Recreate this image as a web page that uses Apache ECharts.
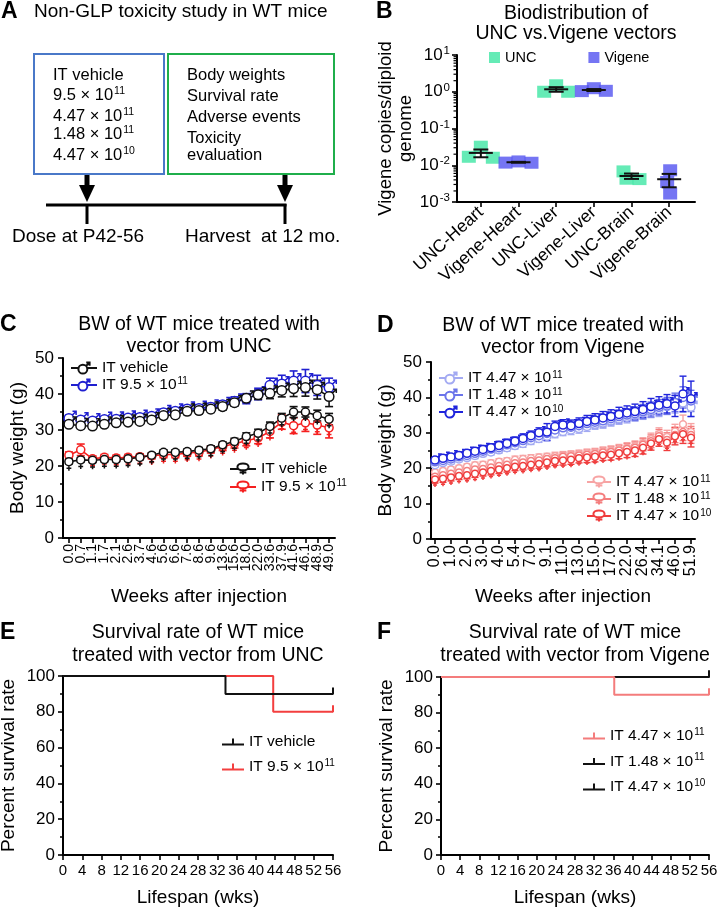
<!DOCTYPE html>
<html><head><meta charset="utf-8">
<script src="https://cdn.jsdelivr.net/npm/echarts/dist/echarts.min.js"></script>
<style>html,body{margin:0;padding:0;background:#fff;}#main{width:717px;height:909px;}</style>
</head><body><div id="main"></div>
<script>
const FONT = "'Liberation Sans', Arial, Helvetica, sans-serif";

// ---------------- Panel B: biodistribution ----------------
const bioCategories = ['UNC-Heart','Vigene-Heart','UNC-Liver','Vigene-Liver','UNC-Brain','Vigene-Brain'];
const bioUNCHeart = [0.032, 0.017, 0.016];
const bioVigeneHeart = [0.0118, 0.0127, 0.0117];
const bioUNCLiver = [1.5, 1.0, 1.0];
const bioVigeneLiver = [1.25, 1.04, 1.06];
const bioUNCBrain = [0.0068, 0.0043, 0.0042];
const bioVigeneBrain = [0.0073, 0.0035, 0.0017];
const bioMinorTicks = [0.002,0.003,0.004,0.005,0.006,0.007,0.008,0.009,
  0.02,0.03,0.04,0.05,0.06,0.07,0.08,0.09,0.2,0.3,0.4,0.5,0.6,0.7,0.8,0.9,2,3,4,5,6,7,8,9];

// ---------------- Panel C: body weight, UNC vector ----------------
const cWeeks = ['0.0','0.7','1.1','1.7','2.1','2.6','3.7','4.6','5.6','6.6','7.6','8.6','9.6','13.6','15.6','18.0','22.0','33.6','37.9','41.6','46.1','48.9','49.0'];
const cMaleVehicle = [31.6,31.2,31.1,31.6,32.0,32.2,32.4,32.8,34.0,34.2,35.2,35.4,35.8,36.5,37.6,38.8,39.8,40.2,41.0,41.5,41.8,41.2,39.3];
const cMaleVehicleSem = [0.7,0.8,0.7,0.7,0.7,0.7,0.7,0.8,0.8,0.8,0.9,0.9,0.9,1.0,1.0,1.1,1.3,1.5,1.8,2.2,2.4,2.6,2.8];
const cMaleUNC = [33.2,32.8,32.5,32.9,33.0,33.3,33.5,33.8,34.8,35.2,35.8,36.0,36.3,37.0,38.0,38.7,40.0,42.4,42.8,43.6,43.6,42.4,41.8];
const cMaleUNCSem = [0.9,0.8,0.8,0.8,0.8,0.9,0.9,0.9,1.0,1.0,1.0,1.0,1.1,1.1,1.2,1.4,1.6,2.0,2.4,2.8,3.2,2.8,2.6];
const cFemaleVehicle = [21.2,21.7,21.6,21.8,21.8,22.0,22.4,23.0,23.8,23.8,24.0,24.4,24.8,25.9,26.8,28.2,29.1,31.0,33.3,35.0,35.0,34.0,33.0];
const cFemaleVehicleSem = [0.6,0.6,0.6,0.6,0.6,0.6,0.6,0.6,0.7,0.7,0.7,0.7,0.8,0.8,0.9,1.0,1.1,1.2,1.3,1.5,1.4,1.5,1.6];
const cFemaleUNC = [23.0,24.5,22.0,22.4,22.2,22.4,22.6,22.8,23.2,23.2,23.6,23.8,24.6,25.4,26.2,27.0,27.8,29.6,32.2,31.2,32.0,31.4,30.6];
const cFemaleUNCSem = [0.9,1.6,0.8,0.8,0.8,0.8,0.8,0.8,0.9,0.9,0.9,1.0,1.0,1.1,1.2,1.4,1.6,1.8,2.0,2.2,2.4,2.6,2.8];

// ---------------- Panel D: body weight, Vigene vector ----------------
const dWeeks = ['0.0','0.5','1.0','1.5','2.0','2.5','3.0','3.5','4.0','4.6','5.4','6.1','7.0','8.0','9.1','10.0','11.0','12.0','13.0','14.0','15.0','16.0','17.0','19.0','22.0','24.1','26.4','30.0','34.1','40.0','46.0','48.9','51.9'];
const dMaleHigh = [21.0,21.6,22.0,22.6,23.0,23.6,24.2,24.6,25.2,25.8,26.4,27.0,27.8,28.4,29.0,29.8,30.4,30.8,31.2,31.8,32.4,32.8,33.4,34.0,34.4,35.0,35.6,36.2,36.6,37.4,38.0,38.4,37.2];
const dMaleHighSem = [0.7,0.7,0.8,0.8,0.8,0.9,0.9,0.9,1.0,1.0,1.0,1.1,1.1,1.1,1.2,1.2,1.2,1.3,1.3,1.4,1.4,1.5,1.5,1.6,1.6,1.7,1.8,1.9,2.0,2.2,2.4,2.6,2.6];
const dMaleMid = [21.8,22.2,22.6,23.2,23.6,24.2,24.8,25.4,25.8,26.6,27.2,27.8,28.6,29.2,29.8,30.8,31.4,31.6,32.0,32.6,33.0,33.4,34.0,34.6,35.0,35.4,36.0,36.6,37.2,37.6,38.6,40.0,39.0];
const dMaleMidSem = [0.8,0.8,0.9,0.9,0.9,1.0,1.0,1.0,1.1,1.1,1.1,1.2,1.2,1.3,1.3,1.4,1.4,1.5,1.5,1.6,1.6,1.7,1.7,1.8,1.8,1.9,2.0,2.1,2.2,2.4,2.6,3.0,3.0];
const dMaleLow = [22.3,22.8,23.2,23.6,24.2,24.8,25.3,25.8,26.4,27.0,27.6,28.4,29.2,30.0,30.2,31.8,32.2,32.0,32.6,33.2,33.6,34.2,34.6,35.2,35.6,36.0,36.6,37.4,37.8,38.2,37.6,41.0,39.6];
const dMaleLowSem = [0.8,0.9,0.9,1.0,1.0,1.0,1.1,1.1,1.2,1.2,1.2,1.3,1.3,1.4,2.4,1.5,1.5,1.6,1.6,1.7,1.8,1.8,1.9,2.0,2.0,2.1,2.2,2.3,2.4,2.6,3.0,5.0,5.0];
const dFemaleHigh = [18.8,19.2,19.6,20.0,20.4,20.8,21.0,21.4,21.8,22.0,22.4,22.6,22.8,23.0,23.2,23.4,23.6,23.8,24.0,24.2,24.4,24.8,25.0,25.4,25.8,26.2,27.0,28.2,29.6,28.8,30.4,32.4,30.2];
const dFemaleHighSem = [0.8,0.8,0.8,0.8,0.8,0.9,0.9,0.9,0.9,0.9,1.0,1.0,1.0,1.0,1.0,1.1,1.1,1.1,1.1,1.2,1.2,1.2,1.3,1.3,1.4,1.5,1.6,1.7,1.8,1.9,2.0,2.6,2.4];
const dFemaleMid = [17.6,18.0,18.4,18.8,19.2,19.6,19.8,20.2,20.6,21.0,21.4,21.6,22.0,22.2,22.6,22.8,23.2,23.4,23.6,23.8,24.0,24.4,24.6,25.0,25.4,25.8,26.6,27.6,29.0,28.0,29.4,30.2,29.4];
const dFemaleMidSem = [0.9,0.9,0.9,0.9,0.9,0.9,1.0,1.0,1.0,1.0,1.0,1.1,1.1,1.1,1.1,1.2,1.2,1.2,1.2,1.3,1.3,1.3,1.4,1.4,1.5,1.6,1.7,1.8,1.9,2.0,2.2,2.4,2.4];
const dFemaleLow = [16.8,17.0,17.4,17.8,18.0,18.4,18.8,19.2,19.6,20.0,20.4,20.6,21.0,21.2,21.6,22.0,22.2,22.4,22.8,23.0,23.2,23.6,23.8,24.2,24.6,25.0,25.8,27.0,28.2,27.2,29.0,29.6,28.6];
const dFemaleLowSem = [1.0,1.0,1.0,1.0,1.0,1.0,1.0,1.1,1.1,1.1,1.1,1.1,1.2,1.2,1.2,1.2,1.3,1.3,1.3,1.4,1.4,1.4,1.5,1.5,1.6,1.7,1.8,1.9,2.0,2.2,2.4,2.6,2.6];

// ---------------- Panels E/F: survival ----------------
const eVehicleWeeks = [0, 33.7, 56];
const eVehicleSurvival = [100, 90, 90];
const eHighWeeks = [0, 43.6, 56];
const eHighSurvival = [100, 80, 80];
const fHighWeeks = [0, 36.2, 56];
const fHighSurvival = [100, 90, 90];
const fMidWeeks = [0, 56];
const fMidSurvival = [100, 100];
const fLowWeeks = [0, 56];
const fLowSurvival = [100, 100];

// ---------------- styles ----------------
const bioJitterPx = [[0,-12,12],[-13,0,13],[0,-12,12],[0,-12,12],[-8,-5,8],[1,-2,1]];
const MALE = 'path://M10.5,10A4.5,4.5,0,1,1,1.5,10A4.5,4.5,0,1,1,10.5,10Z M9.2,6.8L12.6,3.4 M9.4,3.2L12.8,3.2L12.8,6.6';
const FEMALE = 'path://M9.5,5A4.5,4.5,0,1,1,0.5,5A4.5,4.5,0,1,1,9.5,5Z M5,9.5L5,15 M2.3,12.4L7.7,12.4';
const KM_ICON = 'path://M0,7H22V9H0Z M10,2H12V7H10Z';

function supRich(fs, lh, sfs) {
  return { n: { fontSize: fs, lineHeight: lh, fontFamily: FONT, color: '#000' },
           s: { fontSize: sfs, fontFamily: FONT, color: '#000', verticalAlign: 'top', padding: [1, 0, 0, 1] } };
}
const LABELS = {
  cMaleVeh: '{n|IT vehicle}', cMaleUNC: '{n|IT 9.5 × 10}{s|11}',
  cFemVeh: '{n|IT vehicle}', cFemUNC: '{n|IT 9.5 × 10}{s|11}',
  dMaleHigh: '{n|IT 4.47 × 10}{s|11}', dMaleMid: '{n|IT 1.48 × 10}{s|11}', dMaleLow: '{n|IT 4.47 × 10}{s|10}',
  dFemHigh: '{n|IT 4.47 × 10}{s|11}', dFemMid: '{n|IT 1.48 × 10}{s|11}', dFemLow: '{n|IT 4.47 × 10}{s|10}',
  eVeh: '{n|IT vehicle}', eHigh: '{n|IT 9.5 × 10}{s|11}',
  fHigh: '{n|IT 4.47 × 10}{s|11}', fMid: '{n|IT 1.48 × 10}{s|11}', fLow: '{n|IT 4.47 × 10}{s|10}',
  UNC: '{n|UNC}', Vigene: '{n|Vigene}'
};

const AX = { color: '#000', width: 2 };
function baseAxis(o) {
  return Object.assign({
    axisLine: { show: true, onZero: false, lineStyle: AX },
    axisTick: { show: true, length: 5, lineStyle: { color: '#000', width: 1.6 } },
    splitLine: { show: false },
    axisLabel: { color: '#000', fontFamily: FONT, fontSize: 16 },
    nameTextStyle: { color: '#000', fontFamily: FONT, fontSize: 19 }
  }, o);
}

function errRender(color, capW, lw) {
  return function (params, api) {
    const x = api.value(0);
    const lo = api.coord([x, api.value(1)]);
    const hi = api.coord([x, api.value(2)]);
    const st = { stroke: color, lineWidth: lw, fill: null };
    return { type: 'group', children: [
      { type: 'line', shape: { x1: lo[0], y1: lo[1], x2: hi[0], y2: hi[1] }, style: st },
      { type: 'line', shape: { x1: lo[0] - capW / 2, y1: lo[1], x2: lo[0] + capW / 2, y2: lo[1] }, style: st },
      { type: 'line', shape: { x1: hi[0] - capW / 2, y1: hi[1], x2: hi[0] + capW / 2, y2: hi[1] }, style: st }
    ] };
  };
}

function bwSeries(key, axisIdx, mean, sem, color, symbol, symSize, symOffset, lw, capW) {
  return [
    { type: 'custom', name: key + '_err', xAxisIndex: axisIdx, yAxisIndex: axisIdx,
      renderItem: errRender(color, capW, lw), encode: { x: 0, y: [1, 2] }, z: 2,
      data: mean.map((m, i) => [i, m - sem[i], m + sem[i]]) },
    { type: 'line', name: key, xAxisIndex: axisIdx, yAxisIndex: axisIdx, data: mean,
      symbol: symbol, symbolSize: symSize, symbolKeepAspect: true, symbolOffset: symOffset,
      showAllSymbol: true, z: 3,
      lineStyle: { color: color, width: lw },
      itemStyle: { color: '#fff', borderColor: color, borderWidth: 1.5 } }
  ];
}

function kmSeries(key, axisIdx, weeks, surv, color) {
  const data = weeks.map((t, i) => i === weeks.length - 1
    ? { value: [t, surv[i]], symbol: 'rect', symbolSize: [2, 7], symbolOffset: [0, -3] }
    : { value: [t, surv[i]] });
  return { type: 'line', name: key, xAxisIndex: axisIdx, yAxisIndex: axisIdx, step: 'end', data: data,
    symbol: 'none', showAllSymbol: true,
    lineStyle: { color: color, width: 2 }, itemStyle: { color: color } };
}

// bio helpers
const bioGroups = [bioUNCHeart, bioVigeneHeart, bioUNCLiver, bioVigeneLiver, bioUNCBrain, bioVigeneBrain];
function bioPoints(indices) {
  const out = [];
  indices.forEach(ci => bioGroups[ci].forEach((v, k) => out.push({ value: [ci, v], symbolOffset: [bioJitterPx[ci][k], 0] })));
  return out;
}
const bioStats = bioGroups.map((g, i) => {
  const m = g.reduce((a, b) => a + b, 0) / g.length;
  const sd = Math.sqrt(g.reduce((a, b) => a + (b - m) * (b - m), 0) / (g.length - 1));
  const se = sd / Math.sqrt(g.length);
  return [i, m, m - se, m + se];
});

function legend(keys, left, top, iw, lh, gap, fs, extra) {
  return Object.assign({
    data: keys, left: left, top: top, orient: 'vertical', itemWidth: iw, itemHeight: 14, itemGap: gap,
    selectedMode: false, padding: 0,
    formatter: n => LABELS[n],
    textStyle: { rich: supRich(fs, lh, 10) }
  }, extra || {});
}

function txt(text, x, y, size, align, extra) {
  return { type: 'text', silent: true, style: Object.assign({
    text: text, x: x, y: y, fill: '#000', font: size + 'px ' + FONT,
    align: align || 'left', textAlign: align || 'left', verticalAlign: 'middle', textVerticalAlign: 'middle'
  }, extra || {}) };
}
function richTxt(text, x, y, fs) {
  return { type: 'text', silent: true, style: {
    text: text, x: x, y: y, align: 'left', textAlign: 'left', verticalAlign: 'middle', textVerticalAlign: 'middle',
    rich: supRich(fs, 20, 10.5)
  } };
}
function seg(x1, y1, x2, y2, w) {
  return { type: 'line', silent: true, shape: { x1, y1, x2, y2 }, style: { stroke: '#000', lineWidth: w } };
}
function arrow(cx) {
  return [
    { type: 'rect', silent: true, shape: { x: cx - 2.5, y: 175, width: 5, height: 12 }, style: { fill: '#000' } },
    { type: 'polygon', silent: true, shape: { points: [[cx - 8, 185], [cx + 8, 185], [cx, 202]] }, style: { fill: '#000' } }
  ];
}

const graphics = [
  // panel letters
  txt('A', 1, 12, 21, 'left', { font: 'bold 23px ' + FONT }),
  txt('B', 376, 12, 21, 'left', { font: 'bold 23px ' + FONT }),
  txt('C', 0, 325, 21, 'left', { font: 'bold 23px ' + FONT }),
  txt('D', 377, 326, 21, 'left', { font: 'bold 23px ' + FONT }),
  txt('E', 0, 633, 21, 'left', { font: 'bold 23px ' + FONT }),
  txt('F', 377, 633, 21, 'left', { font: 'bold 23px ' + FONT }),
  // panel A
  txt('Non-GLP toxicity study in WT mice', 34, 12, 19),
  { type: 'rect', silent: true, shape: { x: 34, y: 54, width: 130, height: 120 }, style: { fill: 'none', stroke: '#4a78c8', lineWidth: 2 } },
  { type: 'rect', silent: true, shape: { x: 168, y: 54, width: 166, height: 120 }, style: { fill: 'none', stroke: '#1fae4b', lineWidth: 2 } },
  txt('IT vehicle', 53, 75, 16.5),
  richTxt('{n|9.5 × 10}{s|11}', 53, 95, 16.5),
  richTxt('{n|4.47 × 10}{s|11}', 53, 116, 16.5),
  richTxt('{n|1.48 × 10}{s|11}', 53, 134, 16.5),
  richTxt('{n|4.47 × 10}{s|10}', 53, 155, 16.5),
  txt('Body weights', 187, 75, 16.5),
  txt('Survival rate', 187, 96, 16.5),
  txt('Adverse events', 187, 117, 16.5),
  txt('Toxicity', 187, 138, 16.5),
  txt('evaluation', 187, 155, 16.5),
  ...arrow(87), ...arrow(285),
  seg(46, 205, 286.5, 205, 3),
  seg(87, 204, 87, 224, 3),
  seg(285, 204, 285, 224, 3),
  txt('Dose at P42-56', 12, 237, 19),
  txt('Harvest  at 12 mo.', 185, 237, 19),
  // panel titles
  txt('Biodistribution of', 576, 14, 19.5, 'center'),
  txt('UNC vs.Vigene vectors', 576, 34, 19.5, 'center'),
  txt('BW of WT mice treated with', 199, 325, 19.5, 'center'),
  txt('vector from UNC', 199, 347, 19.5, 'center'),
  txt('BW of WT mice treated with', 563, 326, 19.5, 'center'),
  txt('vector from Vigene', 563, 348, 19.5, 'center'),
  txt('Survival rate of WT mice', 198, 633, 19.5, 'center'),
  txt('treated with vector from UNC', 198, 656, 19.5, 'center'),
  txt('Survival rate of WT mice', 575, 633, 19.5, 'center'),
  txt('treated with vector from Vigene', 575, 656, 19.5, 'center')
];

const option = {
  animation: false,
  backgroundColor: '#fff',
  textStyle: { fontFamily: FONT },
  grid: [
    { left: 457, top: 55, width: 238, height: 147, outerBoundsMode: 'none', containLabel: false },
    { left: 462, top: 55, width: 226, height: 147, outerBoundsMode: 'none', containLabel: false },
    { left: 63, top: 358, width: 272, height: 180, outerBoundsMode: 'none', containLabel: false },
    { left: 431, top: 362, width: 264, height: 177, outerBoundsMode: 'none', containLabel: false },
    { left: 63, top: 676, width: 270, height: 179, outerBoundsMode: 'none', containLabel: false },
    { left: 441, top: 677, width: 268, height: 178, outerBoundsMode: 'none', containLabel: false }
  ],
  xAxis: [
    baseAxis({ gridIndex: 0, type: 'category', data: bioCategories, axisTick: { show: false }, axisLabel: { show: false } }),
    baseAxis({ gridIndex: 1, type: 'category', data: bioCategories, axisLine: { show: false },
      axisTick: { show: true, alignWithLabel: true, length: 5, lineStyle: { color: '#000', width: 1.6 } },
      axisLabel: { color: '#000', fontFamily: FONT, fontSize: 17.5, rotate: 42, interval: 0, margin: 8 } }),
    baseAxis({ gridIndex: 2, type: 'category', data: cWeeks, boundaryGap: true,
      axisTick: { show: true, alignWithLabel: true, interval: 0, length: 5, lineStyle: { color: '#000', width: 1.6 } },
      axisLabel: { color: '#000', fontFamily: FONT, fontSize: 14, rotate: 90, interval: 0, margin: 6 },
      name: 'Weeks after injection', nameLocation: 'middle', nameGap: 49 }),
    baseAxis({ gridIndex: 3, type: 'category', data: dWeeks, boundaryGap: true,
      axisTick: { show: true, alignWithLabel: true, interval: 1, length: 5, lineStyle: { color: '#000', width: 1.6 } },
      axisLabel: { color: '#000', fontFamily: FONT, fontSize: 16, rotate: 90, interval: 1, margin: 6 },
      name: 'Weeks after injection', nameLocation: 'middle', nameGap: 48 }),
    baseAxis({ gridIndex: 4, type: 'value', min: 0, max: 56, interval: 4,
      axisLabel: { color: '#000', fontFamily: FONT, fontSize: 15, margin: 8 },
      name: 'Lifespan (wks)', nameLocation: 'middle', nameGap: 33 }),
    baseAxis({ gridIndex: 5, type: 'value', min: 0, max: 56, interval: 4,
      axisLabel: { color: '#000', fontFamily: FONT, fontSize: 15, margin: 8 },
      name: 'Lifespan (wks)', nameLocation: 'middle', nameGap: 33 })
  ],
  yAxis: [
    baseAxis({ gridIndex: 0, type: 'log', logBase: 10, min: 0.001, max: 10,
      axisLabel: { margin: 7, formatter: v => '{b|10}{e|' + Math.round(Math.log10(v)) + '}',
        rich: { b: { fontSize: 17, lineHeight: 22, fontFamily: FONT, color: '#000' },
                e: { fontSize: 11.5, fontFamily: FONT, color: '#000', verticalAlign: 'top', padding: [1, 0, 0, 1] } } },
      name: 'Vigene copies/diploid\ngenome', nameLocation: 'middle', nameRotate: 90, nameGap: 41,
      nameTextStyle: { color: '#000', fontFamily: FONT, fontSize: 18.5, lineHeight: 20 } }),
    baseAxis({ gridIndex: 1, type: 'log', logBase: 10, min: 0.001, max: 10, show: false }),
    baseAxis({ gridIndex: 2, type: 'value', min: 0, max: 50, interval: 10,
      minorTick: { show: true, splitNumber: 2, length: 3, lineStyle: { color: '#000', width: 1.5 } },
      axisLabel: { color: '#000', fontFamily: FONT, fontSize: 17, margin: 9 },
      name: 'Body weight (g)', nameLocation: 'middle', nameRotate: 90, nameGap: 36 }),
    baseAxis({ gridIndex: 3, type: 'value', min: 0, max: 50, interval: 10,
      minorTick: { show: true, splitNumber: 2, length: 3, lineStyle: { color: '#000', width: 1.5 } },
      axisLabel: { color: '#000', fontFamily: FONT, fontSize: 17, margin: 9 },
      name: 'Body weight (g)', nameLocation: 'middle', nameRotate: 90, nameGap: 36 }),
    baseAxis({ gridIndex: 4, type: 'value', min: 0, max: 100, interval: 20,
      minorTick: { show: true, splitNumber: 2, length: 3, lineStyle: { color: '#000', width: 1.5 } },
      axisLabel: { color: '#000', fontFamily: FONT, fontSize: 17, margin: 8 },
      name: 'Percent survival rate', nameLocation: 'middle', nameRotate: 90, nameGap: 45 }),
    baseAxis({ gridIndex: 5, type: 'value', min: 0, max: 100, interval: 20,
      minorTick: { show: true, splitNumber: 2, length: 3, lineStyle: { color: '#000', width: 1.5 } },
      axisLabel: { color: '#000', fontFamily: FONT, fontSize: 17, margin: 8 },
      name: 'Percent survival rate', nameLocation: 'middle', nameRotate: 90, nameGap: 45 })
  ],
  legend: [
    legend(['UNC', 'Vigene'], 489, 50, 11, 20, 52, 14.5, { orient: 'horizontal', itemHeight: 11, icon: 'rect' }),
    legend(['cMaleVeh', 'cMaleUNC'], 70, 360, 26, 20, 0, 15.5),
    legend(['cFemVeh', 'cFemUNC'], 229, 461, 26, 20, 1, 15.5),
    legend(['dMaleHigh', 'dMaleMid', 'dMaleLow'], 438, 370, 24, 18, 1, 15.5),
    legend(['dFemHigh', 'dFemMid', 'dFemLow'], 586, 474, 24, 18, 1, 15.5),
    legend(['eVeh', 'eHigh'], 222, 734, 22, 20, 8, 15.5, { icon: KM_ICON, itemHeight: 9 }),
    legend(['fHigh', 'fMid', 'fLow'], 583, 727, 22, 20, 8.5, 15.5, { icon: KM_ICON, itemHeight: 9 })
  ],
  graphic: { elements: graphics },
  series: [
    // B minor log ticks
    { type: 'custom', name: 'bioMinor', xAxisIndex: 0, yAxisIndex: 0, silent: true,
      data: bioMinorTicks.map(v => [0, v]), encode: { x: 0, y: 1 },
      renderItem: (params, api) => {
        const y = api.coord([0, api.value(1)])[1];
        const x = params.coordSys.x;
        return { type: 'line', shape: { x1: x - 3.5, y1: y, x2: x, y2: y }, style: { stroke: '#000', lineWidth: 1.2 } };
      } },
    { type: 'scatter', name: 'UNC', xAxisIndex: 1, yAxisIndex: 1, symbol: 'rect', symbolSize: [14, 12],
      itemStyle: { color: '#3ee6a4' }, data: bioPoints([0, 2, 4]), z: 2 },
    { type: 'scatter', name: 'Vigene', xAxisIndex: 1, yAxisIndex: 1, symbol: 'rect', symbolSize: [14, 12],
      itemStyle: { color: '#5353f0' }, data: bioPoints([1, 3, 5]), z: 2 },
    { type: 'custom', name: 'bioMean', xAxisIndex: 1, yAxisIndex: 1, z: 5, encode: { x: 0, y: [1, 2, 3] },
      data: bioStats,
      renderItem: (params, api) => {
        const i = api.value(0);
        const m = api.coord([i, api.value(1)]);
        const lo = api.coord([i, api.value(2)]);
        const hi = api.coord([i, api.value(3)]);
        const st = { stroke: '#111', lineWidth: 2, fill: null };
        return { type: 'group', children: [
          { type: 'line', shape: { x1: m[0] - 12, y1: m[1], x2: m[0] + 12, y2: m[1] }, style: st },
          { type: 'line', shape: { x1: lo[0], y1: lo[1], x2: hi[0], y2: hi[1] }, style: st },
          { type: 'line', shape: { x1: lo[0] - 7.5, y1: lo[1], x2: lo[0] + 7.5, y2: lo[1] }, style: st },
          { type: 'line', shape: { x1: hi[0] - 7.5, y1: hi[1], x2: hi[0] + 7.5, y2: hi[1] }, style: st }
        ] };
      } },
    // C
    ...bwSeries('cFemUNC', 2, cFemaleUNC, cFemaleUNCSem, '#f52020', FEMALE, 13, [0, 2.5], 1.6, 8),
    ...bwSeries('cFemVeh', 2, cFemaleVehicle, cFemaleVehicleSem, '#111', FEMALE, 13, [0, 2.5], 1.6, 8),
    ...bwSeries('cMaleUNC', 2, cMaleUNC, cMaleUNCSem, '#1f1fd0', MALE, 12, [1.2, -1.2], 1.6, 8),
    ...bwSeries('cMaleVeh', 2, cMaleVehicle, cMaleVehicleSem, '#111', MALE, 12, [1.2, -1.2], 1.6, 8),
    // D
    ...bwSeries('dFemHigh', 3, dFemaleHigh, dFemaleHighSem, '#f7a4a4', FEMALE, 11, [0, 2], 1.4, 7),
    ...bwSeries('dFemMid', 3, dFemaleMid, dFemaleMidSem, '#f47e7e', FEMALE, 11, [0, 2], 1.4, 7),
    ...bwSeries('dFemLow', 3, dFemaleLow, dFemaleLowSem, '#ef3c3c', FEMALE, 11, [0, 2], 1.4, 7),
    ...bwSeries('dMaleHigh', 3, dMaleHigh, dMaleHighSem, '#a3aaf2', MALE, 10, [1, -1], 1.4, 7),
    ...bwSeries('dMaleMid', 3, dMaleMid, dMaleMidSem, '#6b74ea', MALE, 10, [1, -1], 1.4, 7),
    ...bwSeries('dMaleLow', 3, dMaleLow, dMaleLowSem, '#1f24dc', MALE, 10, [1, -1], 1.4, 7),
    // E
    kmSeries('eHigh', 4, eHighWeeks, eHighSurvival, '#f33f3f'),
    kmSeries('eVeh', 4, eVehicleWeeks, eVehicleSurvival, '#111'),
    // F
    kmSeries('fLow', 5, fLowWeeks, fLowSurvival, '#111'),
    kmSeries('fMid', 5, fMidWeeks, fMidSurvival, '#111'),
    kmSeries('fHigh', 5, fHighWeeks, fHighSurvival, '#f47c7c')
  ]
};

const chart = echarts.init(document.getElementById('main'), null, { renderer: 'canvas', width: 717, height: 909 });
chart.setOption(option);
</script></body></html>
